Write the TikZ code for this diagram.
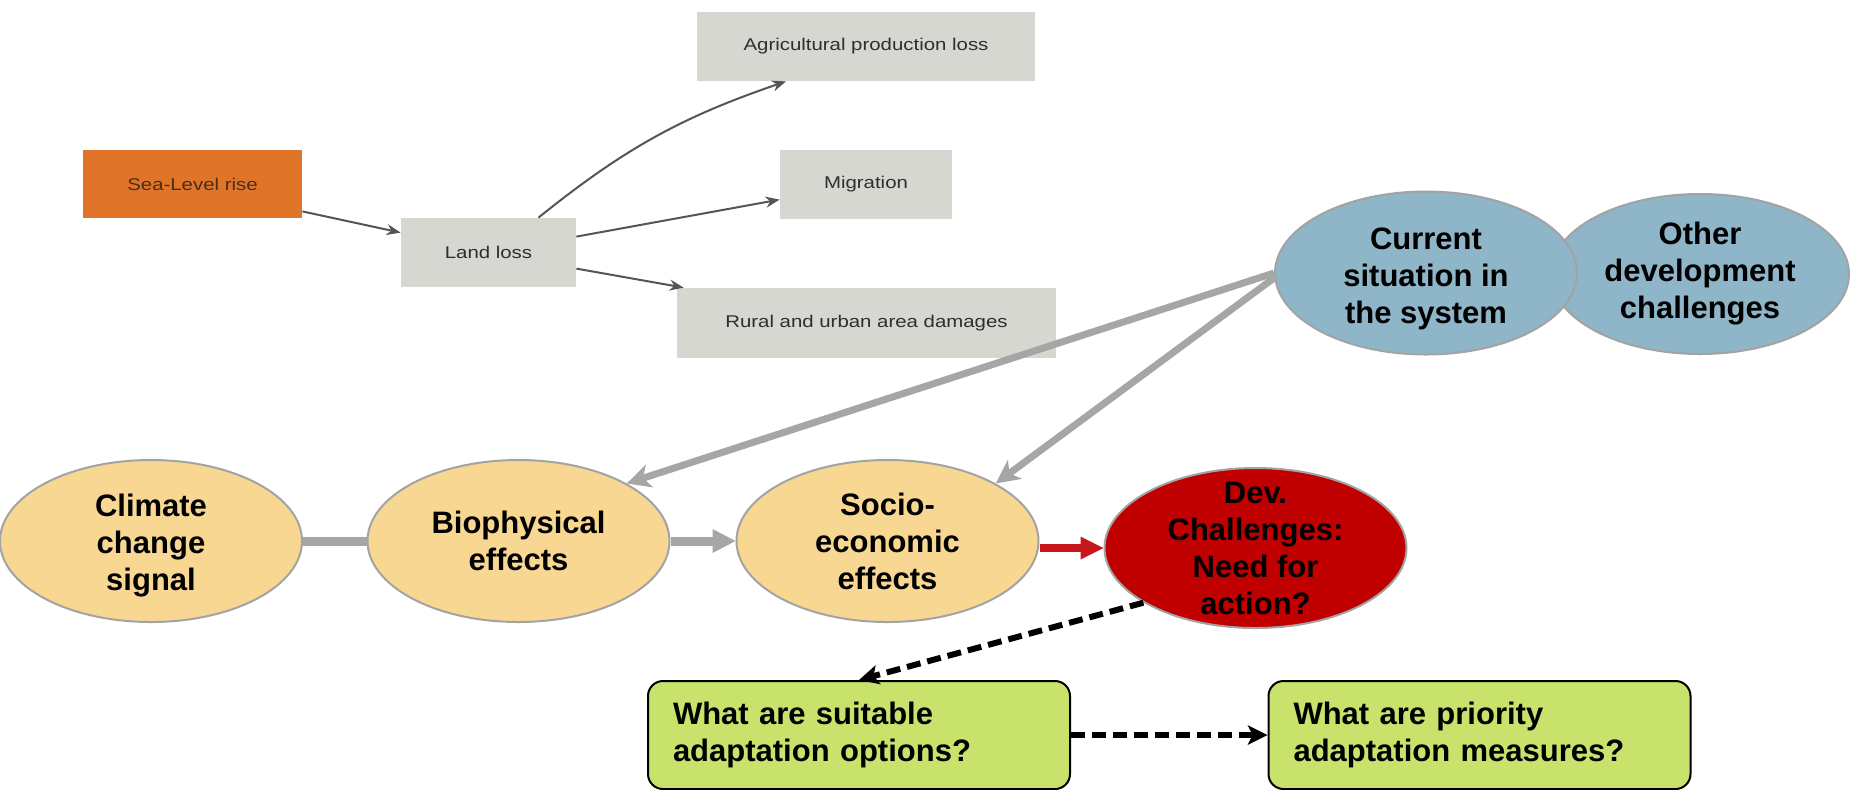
\documentclass[tikz,border=0pt]{standalone}
\usepackage{fontspec}
\setmainfont{Liberation Sans}
\newfontfamily\topfont[FakeStretch=1.2]{Liberation Sans}
\usetikzlibrary{shapes.geometric,arrows.meta,calc}
\definecolor{cTan}{HTML}{F7D792}
\definecolor{cDevRed}{HTML}{C00000}
\definecolor{cRedArr}{HTML}{C8161D}
\definecolor{cBlue}{HTML}{8EB5C8}
\definecolor{cGreen}{HTML}{C9E26B}
\definecolor{cGArr}{HTML}{A6A6A6}
\definecolor{cEdge}{HTML}{A3A3A3}
\definecolor{cOrange}{HTML}{E07428}
\definecolor{cGreyBox}{HTML}{D7D7D1}
\definecolor{cTopArr}{HTML}{555555}
\definecolor{cTopText}{HTML}{2E2E2E}
\definecolor{cSeaText}{HTML}{4A2E1A}
\begin{document}
\begin{tikzpicture}[x=0.5pt,y=-0.5pt,
  ell/.style={ellipse, draw=cEdge, line width=1pt, inner sep=0pt, minimum width=151pt, minimum height=81pt},
  etxt/.style={align=center, font=\bfseries\fontsize{15.5}{18.5}\selectfont, inner sep=0pt},
  gbox/.style={fill=cGreyBox, minimum height=34.5pt, inner sep=0pt, font=\topfont\fontsize{8.5}{10}\selectfont, text=cTopText},
  tarr/.style={draw=cTopArr, line width=1pt, -{Stealth[length=7pt,width=5.5pt]}},
  gline/.style={draw=cGArr, line width=4.5pt},
  gblock/.style={draw=cGArr, line width=4.5pt, -{Triangle[length=11.5pt,width=12pt,line width=0pt]}},
  rblock/.style={draw=cRedArr, line width=4pt, -{Triangle[length=11.5pt,width=11.5pt,line width=0pt]}},
  garr/.style={draw=cGArr, line width=3.5pt, -{Stealth[length=12pt,width=12pt,inset=3.5pt,line width=0pt]}},
  darr/.style={draw=black, line width=3pt, dash pattern=on 7pt off 3.5pt, -{Stealth[length=10pt,width=10pt,inset=2.5pt,line width=0pt]}},
  qbox/.style={rounded corners=7.5pt, draw=black, line width=1pt, fill=cGreen, minimum width=211pt, minimum height=54pt, align=left, text width=186pt, inner xsep=12.5pt, inner ysep=0pt, font=\bfseries\fontsize{15.5}{18.5}\selectfont}
]
\useasboundingbox (0,0) rectangle (1851,789);
% top diagram
\node[gbox, fill=cOrange, text=cSeaText, minimum width=109.5pt, minimum height=34pt] (sea) at (192.5,184) {Sea-Level rise};
\node[gbox, minimum width=87.5pt] (land) at (488.5,252.5) {Land loss};
\node[gbox, minimum width=169pt] (agri) at (866,46.5) {Agricultural production loss};
\node[gbox, minimum width=86pt] (migr) at (866,184.5) {Migration};
\node[gbox, minimum width=189.5pt, minimum height=35pt] (rural) at (866.5,323) {Rural and urban area damages};
\draw[tarr] ($(sea.south east)+(0,-7)$) -- ($(land.north west)+(0,15)$);
\draw[tarr] ($(land.north)+(50,0)$) to[bend left=10] ($(agri.south)+(-80,0)$);
\draw[tarr] ($(land.north east)+(0,19)$) -- ($(migr.north west)+(0,50)$);
\draw[tarr] ($(land.north east)+(0,51)$) -- ($(rural.north west)+(7,0)$);
% ellipses
\node[ell, fill=cTan] (clim) at (151,541) {};
\node[ell, fill=cTan] (bio) at (518.5,541) {};
\node[ell, fill=cTan] (soc) at (887.5,541) {};
\node[ell, fill=cDevRed, minimum height=80pt] (dev) at (1255.5,548) {};
\node[ell, fill=cBlue, minimum width=149pt, minimum height=80pt] (oth) at (1700,274) {};
\node[ell, fill=cBlue, minimum height=81.5pt] (cur) at (1426,273) {};
\node[etxt] (climt) at ($(clim)+(0,5)$) {Climate\\change\\signal};
\node[etxt] (biot) at (bio) {Biophysical\\effects};
\node[etxt] (soct) at (soc) {Socio-\\economic\\effects};
\node[etxt] (devt) at (dev) {Dev.\\Challenges:\\Need for\\action?};
\node[etxt] (otht) at (oth) {Other\\development\\challenges};
\node[etxt] (curt) at ($(cur)+(0,6)$) {Current\\situation in\\the system};
% question boxes
\node[qbox] (q1) at (859,735) {What are suitable\\adaptation options?};
\node[qbox] (q2) at (1479.5,735) {What are priority\\adaptation measures?};
% connectors
\draw[gline] (clim.east) -- (bio.west);
\draw[gblock] (bio.east) -- (soc.west);
\draw[rblock] (soc.east |- dev.west) -- (dev.west);
\draw[garr] (cur.west) -- (bio.28);
\draw[garr] ($(cur.west)+(0,5)$) -- (soc.28);
\draw[darr] (dev.206) -- (q1.north);
\draw[darr] (q1.east) -- (q2.west);
\end{tikzpicture}
\end{document}
